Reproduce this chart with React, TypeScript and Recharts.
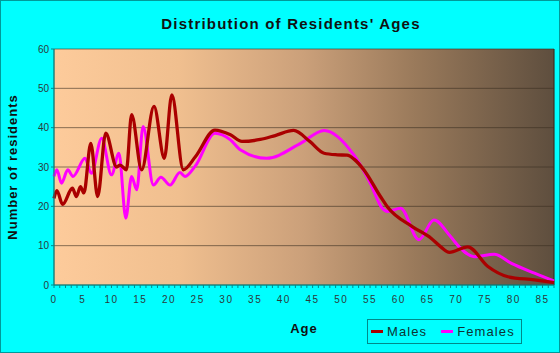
import React from "react";
import { LineChart, Line, XAxis, YAxis, CartesianGrid, ReferenceLine, Label } from "recharts";

// ages where the curve was read, with the value at each
const maleAges = [0, 0.5, 1.5, 3.2, 3.9, 4.6, 5.2, 6.4, 7.6, 9, 10.9, 11.5, 12.6, 13.5, 15.25, 17.4, 19.2, 20.5, 22.5, 24.6, 28, 30.7, 32.7, 35.9, 38.5, 41.7, 44.5, 47, 49.3, 51, 52.2, 53.9, 56.8, 58, 62.4, 65.6, 67.3, 68.8, 72, 75.5, 79, 83.6, 87];
const maleValues = [22, 24, 20.5, 24.6, 22.5, 25, 23.4, 36, 22.5, 38.6, 30, 30.5, 29.3, 43.3, 29.3, 45.4, 32.2, 48.3, 29.3, 32.6, 39.4, 38.2, 36.5, 37, 38, 39.3, 36.5, 33.5, 33.1, 33, 32, 29.3, 22.5, 19.9, 14.8, 11.9, 9.7, 8.3, 9.7, 4.7, 2.1, 1.3, 0.6];

const femaleAges = [0, 0.5, 1.3, 2.4, 3.3, 5.4, 6.5, 8.3, 10, 11.3, 12.5, 13.5, 14.4, 15.5, 17.3, 18.6, 20.2, 21.9, 22.8, 24.6, 28, 30.7, 32.4, 37, 42.9, 47, 52.2, 55, 57.1, 58, 60.3, 63.5, 66.1, 69, 70.5, 73.1, 76.6, 79.6, 83.6, 87];
const femaleValues = [27.6, 29.3, 25.9, 29.3, 27.6, 32.2, 28.4, 37.3, 28, 33.5, 17, 27.6, 24.2, 40.3, 25.4, 27.4, 25.4, 28.6, 27.6, 30.3, 38.6, 36.9, 34.4, 32.2, 36, 39.3, 33, 26, 19.5, 18.7, 19.5, 11.5, 16.5, 12.3, 9.7, 7.2, 7.8, 5.5, 3, 1];

const majorTicks = [0, 5, 10, 15, 20, 25, 30, 35, 40, 45, 50, 55, 60, 65, 70, 75, 80, 85];
const minorTicks = Array.from({ length: 88 }, (_, i) => i);
const yTicks = [0, 10, 20, 30, 40, 50, 60];

const maleData = maleAges.map((age, i) => ({ age, males: maleValues[i] }));
const femaleData = femaleAges.map((age, i) => ({ age, females: femaleValues[i] }));

const font = '"Liberation Sans", Arial, sans-serif';

export default function ResidentsAgesChart() {
  return (
    <div
      style={{
        position: "absolute",
        left: 0,
        top: 0,
        width: 560,
        height: 353,
        background: "#00ffff",
        boxShadow: "inset 0 0 0 1px #009a9a",
        fontFamily: font,
      }}
    >
      <svg width={0} height={0} style={{ position: "absolute" }}>
        <defs>
          <linearGradient id="plotBg" x1="0" y1="0" x2="1" y2="0">
            <stop offset="0%" stopColor="#fdcb9b" />
            <stop offset="25%" stopColor="#f0bf8f" />
            <stop offset="50%" stopColor="#cba07a" />
            <stop offset="72%" stopColor="#9a7a5b" />
            <stop offset="100%" stopColor="#5e4e3e" />
          </linearGradient>
        </defs>
      </svg>
      <div
        style={{
          position: "absolute",
          left: 0,
          top: 15,
          width: 582,
          textAlign: "center",
          fontSize: 15,
          fontWeight: "bold",
          letterSpacing: 1.2,
          color: "#111",
        }}
      >
        Distribution of Residents' Ages
      </div>
      <div style={{ position: "absolute", left: 0, top: 0 }}>
        <LineChart width={560} height={353} margin={{ top: 49, right: 6, bottom: 18, left: 0 }}>
          <XAxis xAxisId="grid" dataKey="age" type="number" domain={[0, 87]} ticks={majorTicks} hide />
          <CartesianGrid
            xAxisId="grid"
            fill="url(#plotBg)"
            fillOpacity={1}
            stroke="#3a2e22"
            strokeOpacity={0.6}
          />
          <XAxis
            dataKey="age"
            type="number"
            domain={[0, 87]}
            ticks={minorTicks}
            interval={0}
            height={50}
            allowDuplicatedCategory={false}
            tickFormatter={(v: number) => (v % 5 === 0 && v <= 85 ? String(v) : "")}
            tick={{ fontSize: 10, fill: "#2a3a3a", letterSpacing: 1.5, fontFamily: font }}
            tickSize={3}
            tickMargin={8}
            stroke="#008a8a"
          >
            <Label
              value="Age"
              position="insideBottom"
              offset={2}
              style={{ fontSize: 13, fontWeight: "bold", letterSpacing: 1, fill: "#111", fontFamily: font }}
            />
          </XAxis>
          <YAxis
            type="number"
            domain={[0, 60]}
            ticks={yTicks}
            width={54}
            tick={{ fontSize: 10, fill: "#2a3a3a", fontFamily: font }}
            tickSize={3}
            tickMargin={2}
            stroke="#008a8a"
          >
            <Label
              value="Number of residents"
              angle={-90}
              position="insideLeft"
              offset={12}
              style={{ textAnchor: "middle", fontSize: 13, fontWeight: "bold", letterSpacing: 1, fill: "#111", fontFamily: font }}
            />
          </YAxis>
          <ReferenceLine x={87} stroke="#3a2e22" strokeOpacity={0.8} />
          <Line
            data={femaleData}
            dataKey="females"
            type="monotone"
            stroke="#ff00ff"
            strokeWidth={3}
            dot={false}
            isAnimationActive={false}
          />
          <Line
            data={maleData}
            dataKey="males"
            type="monotone"
            stroke="#aa0000"
            strokeWidth={3.3}
            dot={false}
            isAnimationActive={false}
          />
        </LineChart>
      </div>
      <div
        style={{
          position: "absolute",
          left: 367,
          top: 319,
          width: 155,
          height: 25,
          boxSizing: "border-box",
          border: "1px solid #008a8a",
          display: "flex",
          alignItems: "center",
          fontSize: 13,
          letterSpacing: 1.1,
          color: "#0d3333",
          whiteSpace: "nowrap",
        }}
      >
        <span style={{ display: "inline-block", width: 12, height: 3, background: "#aa0000", marginLeft: 3, marginRight: 4 }} />
        <span>Males</span>
        <span style={{ display: "inline-block", width: 12, height: 3, background: "#ff00ff", marginLeft: 14, marginRight: 4 }} />
        <span>Females</span>
      </div>
    </div>
  );
}
